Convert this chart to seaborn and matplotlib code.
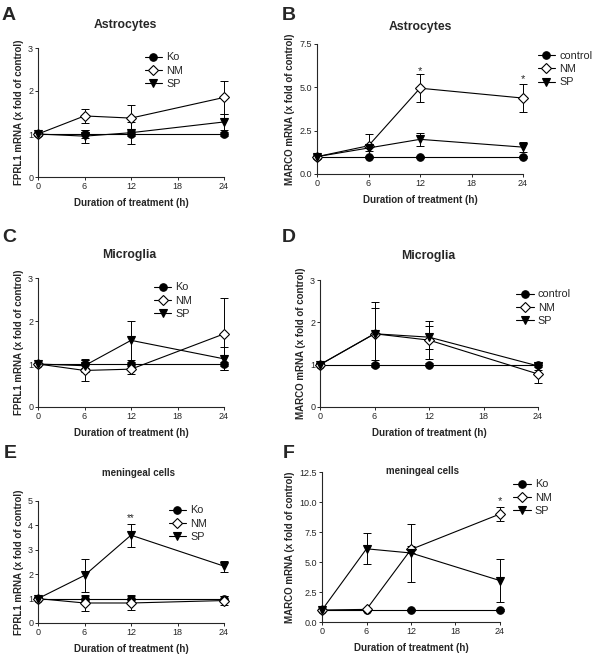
import numpy as np
import matplotlib
matplotlib.use("Agg")
import matplotlib.pyplot as plt
import seaborn as sns

sns.set_style("ticks")
plt.rcParams['font.family'] = ['Liberation Sans', 'DejaVu Sans']

# time points (h)
times = [0, 6, 12, 24]

# A - FPRL1, astrocytes
a_ko = [1, 1, 1, 1]
a_ko_err = [0.05, 0.1, 0.05, 0.05]
a_nm = [1, 1.42, 1.37, 1.85]
a_nm_err = [0.03, 0.17, 0.3, 0.38]
a_sp = [1, 0.95, 1.03, 1.28]
a_sp_err = [0.03, 0.15, 0.26, 0.18]

# B - MARCO, astrocytes
b_ko = [1, 1, 1, 1]
b_ko_err = [0.05, 0.05, 0.05, 0.05]
b_nm = [1, 1.63, 4.95, 4.38]
b_nm_err = [0.1, 0.67, 0.82, 0.83]
b_sp = [1, 1.5, 2.0, 1.55]
b_sp_err = [0.15, 0.2, 0.36, 0.27]

# C - FPRL1, microglia
c_ko = [1, 1, 1, 1]
c_ko_err = [0.03, 0.1, 0.05, 0.05]
c_nm = [1, 0.85, 0.88, 1.7]
c_nm_err = [0.03, 0.25, 0.12, 0.84]
c_sp = [1, 0.96, 1.55, 1.12]
c_sp_err = [0.03, 0.15, 0.46, 0.27]

# D - MARCO, microglia
d_ko = [1, 1, 1, 1]
d_ko_err = [0.03, 0.05, 0.03, 0.05]
d_nm = [1, 1.73, 1.58, 0.78]
d_nm_err = [0.03, 0.75, 0.45, 0.22]
d_sp = [1, 1.73, 1.65, 0.97]
d_sp_err = [0.03, 0.62, 0.27, 0.1]

# E - FPRL1, meningeal cells
e_ko = [1, 1, 1, 1]
e_ko_err = [0.05, 0.1, 0.15, 0.1]
e_nm = [1, 0.82, 0.82, 0.92]
e_nm_err = [0.05, 0.34, 0.3, 0.2]
e_sp = [1, 1.95, 3.6, 2.33]
e_sp_err = [0.05, 0.66, 0.47, 0.22]

# F - MARCO, meningeal cells
f_ko = [1, 1, 1, 1]
f_ko_err = [0.05, 0.05, 0.05, 0.05]
f_nm = [1, 1.05, 6.05, 9.0]
f_nm_err = [0.05, 0.1, 0.3, 0.6]
f_sp = [1, 6.1, 5.75, 3.45]
f_sp_err = [0.05, 1.3, 2.4, 1.8]

xticks = [0, 6, 12, 18, 24]
xlabel = "Duration of treatment (h)"
ylab_fprl = "FPRL1 mRNA (x fold of control)"
ylab_marco = "MARCO mRNA (x fold of control)"

fig = plt.figure(figsize=(6, 6.62), dpi=100)


def px_axes(x0, x1, y0, y1):
    W, H = 600, 662
    return fig.add_axes([x0 / W, 1 - y1 / H, (x1 - x0) / W, (y1 - y0) / H])


def panel(ax, series, ylim, yticks, ylabel, legpos, ylabfmt=None):
    styles = [('o', 'black', 5.4), ('D', 'white', 4.8), ('v', 'black', 5.4)]
    for (name, vals, errs), (mk, fc, ms) in zip(series, styles):
        ax.errorbar(times, vals, yerr=errs, fmt='none', ecolor='black',
                    elinewidth=0.7, capsize=3, capthick=0.7, zorder=2, clip_on=False)
        sns.lineplot(x=times, y=vals, ax=ax, color='black', lw=0.8, marker=mk,
                     markersize=ms, markerfacecolor=fc, markeredgecolor='black',
                     markeredgewidth=0.8, label=name, zorder=3, clip_on=False,
                     errorbar=None)
    ax.set_xlim(0, 24)
    ax.set_ylim(*ylim)
    ax.set_xticks(xticks)
    ax.set_yticks(yticks)
    if ylabfmt:
        ax.set_yticklabels([ylabfmt.format(v) for v in yticks])
    ax.tick_params(labelsize=6.5, length=2.5, width=0.7, pad=1)
    for s in ['left', 'bottom']:
        ax.spines[s].set_linewidth(0.8)
    sns.despine(ax=ax)
    ax.set_xlabel(xlabel, fontsize=7, fontweight='bold', labelpad=5)
    ax.set_ylabel(ylabel, fontsize=7, fontweight='bold', labelpad=3)
    ax.legend(loc='upper left', bbox_to_anchor=legpos, frameon=False,
              fontsize=7.8, handlelength=1.6, handletextpad=0.4,
              labelspacing=0.3, borderaxespad=0)


# A
axA = px_axes(38, 224, 48, 177)
panel(axA, [("Ko", a_ko, a_ko_err), ("NM", a_nm, a_nm_err), ("SP", a_sp, a_sp_err)],
      (0, 3), [0, 1, 2, 3], ylab_fprl, (0.55, 1.0))

# B
axB = px_axes(317, 523, 44, 174)
panel(axB, [("control", b_ko, b_ko_err), ("NM", b_nm, b_nm_err), ("SP", b_sp, b_sp_err)],
      (0, 7.5), [0, 2.5, 5.0, 7.5], ylab_marco, (1.05, 0.98), "{:.1f}")
axB.text(12, 5.95, "*", ha='center', va='center', fontsize=8)
axB.text(24, 5.45, "*", ha='center', va='center', fontsize=8)

# C
axC = px_axes(38, 224, 278, 407)
panel(axC, [("Ko", c_ko, c_ko_err), ("NM", c_nm, c_nm_err), ("SP", c_sp, c_sp_err)],
      (0, 3), [0, 1, 2, 3], ylab_fprl, (0.6, 1.0))

# D
axD = px_axes(320, 538, 280, 407)
panel(axD, [("control", d_ko, d_ko_err), ("NM", d_nm, d_nm_err), ("SP", d_sp, d_sp_err)],
      (0, 3), [0, 1, 2, 3], ylab_marco, (0.88, 0.96))

# E
axE = px_axes(38, 224, 501, 623)
panel(axE, [("Ko", e_ko, e_ko_err), ("NM", e_nm, e_nm_err), ("SP", e_sp, e_sp_err)],
      (0, 5), [0, 1, 2, 3, 4, 5], ylab_fprl, (0.68, 1.0))
axE.text(12, 4.3, "**", ha='center', va='center', fontsize=7)

# F
axF = px_axes(322, 500, 472, 622)
panel(axF, [("Ko", f_ko, f_ko_err), ("NM", f_nm, f_nm_err), ("SP", f_sp, f_sp_err)],
      (0, 12.5), [0, 2.5, 5.0, 7.5, 10.0, 12.5], ylab_marco, (1.05, 0.98), "{:.1f}")
axF.text(24, 10.1, "*", ha='center', va='center', fontsize=8)

# titles
fig.text(125 / 600, 1 - 25 / 662, "Astrocytes", ha='center', va='center', fontsize=8.8, fontweight='bold')
fig.text(420 / 600, 1 - 27 / 662, "Astrocytes", ha='center', va='center', fontsize=8.8, fontweight='bold')
fig.text(129 / 600, 1 - 255 / 662, "Microglia", ha='center', va='center', fontsize=8.8, fontweight='bold')
fig.text(428 / 600, 1 - 256 / 662, "Microglia", ha='center', va='center', fontsize=8.8, fontweight='bold')
fig.text(138 / 600, 1 - 473 / 662, "meningeal cells", ha='center', va='center', fontsize=7, fontweight='bold')
fig.text(423 / 600, 1 - 471 / 662, "meningeal cells", ha='center', va='center', fontsize=7, fontweight='bold')

# panel letters
for lab, x, y in [("A", 9, 15), ("B", 289, 15), ("C", 9, 238),
                  ("D", 289, 238), ("E", 10, 453), ("F", 289, 453)]:
    fig.text(x / 600, 1 - y / 662, lab, ha='center', va='center', fontsize=14, fontweight='bold')

fig.savefig("out.png", dpi=100)
